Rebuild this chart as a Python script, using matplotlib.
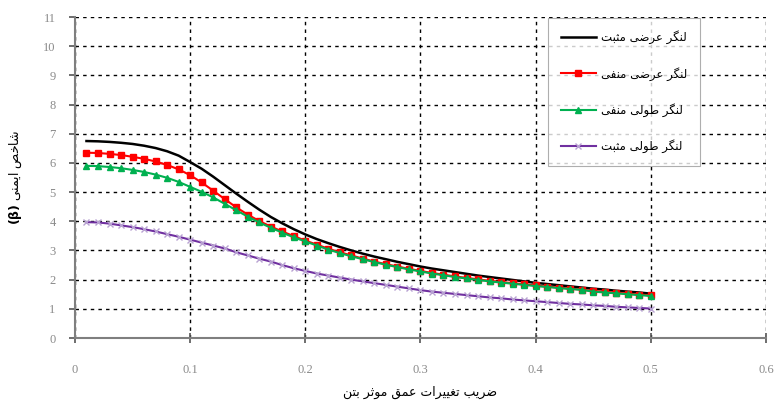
import matplotlib
matplotlib.use("Agg")
import matplotlib.pyplot as plt
import numpy as np

# ضریب تغییرات عمق موثر بتن
cov = [round(0.01 * i, 2) for i in range(1, 51)]

beta_trans_pos = [6.75, 6.74, 6.72, 6.69, 6.65, 6.59, 6.51, 6.40, 6.25, 6.03,
                  5.80, 5.53, 5.24, 4.95, 4.67, 4.40, 4.15, 3.93, 3.73, 3.55,
                  3.39, 3.25, 3.12, 3.00, 2.89, 2.79, 2.70, 2.61, 2.53, 2.45,
                  2.38, 2.32, 2.26, 2.20, 2.14, 2.09, 2.04, 1.99, 1.94, 1.89,
                  1.85, 1.81, 1.77, 1.73, 1.69, 1.66, 1.62, 1.59, 1.56, 1.52]

beta_trans_neg = [6.35, 6.34, 6.31, 6.27, 6.21, 6.14, 6.05, 5.93, 5.78, 5.58,
                  5.33, 5.05, 4.76, 4.48, 4.23, 4.01, 3.82, 3.65, 3.49, 3.34,
                  3.20, 3.06, 2.94, 2.83, 2.72, 2.62, 2.53, 2.45, 2.37, 2.30,
                  2.23, 2.17, 2.11, 2.06, 2.01, 1.96, 1.92, 1.88, 1.84, 1.80,
                  1.76, 1.73, 1.69, 1.66, 1.61, 1.58, 1.55, 1.52, 1.49, 1.46]

beta_long_neg = [5.90, 5.89, 5.86, 5.82, 5.76, 5.69, 5.60, 5.49, 5.35, 5.18,
                 5.01, 4.82, 4.60, 4.38, 4.16, 3.96, 3.78, 3.61, 3.45, 3.31,
                 3.17, 3.03, 2.91, 2.80, 2.70, 2.60, 2.51, 2.43, 2.35, 2.28,
                 2.21, 2.15, 2.09, 2.04, 1.99, 1.94, 1.90, 1.86, 1.82, 1.78,
                 1.75, 1.71, 1.68, 1.65, 1.59, 1.56, 1.53, 1.50, 1.47, 1.44]

beta_long_pos = [3.97, 3.96, 3.92, 3.86, 3.80, 3.73, 3.65, 3.56, 3.47, 3.37,
                 3.27, 3.17, 3.07, 2.94, 2.83, 2.72, 2.62, 2.50, 2.39, 2.30,
                 2.21, 2.14, 2.07, 2.00, 1.94, 1.88, 1.82, 1.76, 1.70, 1.64,
                 1.59, 1.55, 1.51, 1.47, 1.43, 1.39, 1.36, 1.32, 1.29, 1.26,
                 1.23, 1.20, 1.17, 1.15, 1.12, 1.10, 1.07, 1.05, 1.03, 1.01]

labels = ["لنگر عرضی مثبت", "لنگر عرضی منفی", "لنگر طولی منفی", "لنگر طولی مثبت"]
x_title = "ضریب تغییرات عمق موثر بتن"
y_title = "شاخص ایمنی"

# presentation forms: isolated, final, initial, medial
FORMS = {
    "ا": ("\uFE8D", "\uFE8E"),
    "ر": ("\uFEAD", "\uFEAE"),
    "و": ("\uFEED", "\uFEEE"),
    "ب": ("\uFE8F", "\uFE90", "\uFE91", "\uFE92"),
    "ت": ("\uFE95", "\uFE96", "\uFE97", "\uFE98"),
    "ث": ("\uFE99", "\uFE9A", "\uFE9B", "\uFE9C"),
    "خ": ("\uFEA5", "\uFEA6", "\uFEA7", "\uFEA8"),
    "ش": ("\uFEB5", "\uFEB6", "\uFEB7", "\uFEB8"),
    "ص": ("\uFEB9", "\uFEBA", "\uFEBB", "\uFEBC"),
    "ض": ("\uFEBD", "\uFEBE", "\uFEBF", "\uFEC0"),
    "ط": ("\uFEC1", "\uFEC2", "\uFEC3", "\uFEC4"),
    "ع": ("\uFEC9", "\uFECA", "\uFECB", "\uFECC"),
    "غ": ("\uFECD", "\uFECE", "\uFECF", "\uFED0"),
    "ف": ("\uFED1", "\uFED2", "\uFED3", "\uFED4"),
    "ق": ("\uFED5", "\uFED6", "\uFED7", "\uFED8"),
    "ل": ("\uFEDD", "\uFEDE", "\uFEDF", "\uFEE0"),
    "م": ("\uFEE1", "\uFEE2", "\uFEE3", "\uFEE4"),
    "ن": ("\uFEE5", "\uFEE6", "\uFEE7", "\uFEE8"),
    "گ": ("\uFB92", "\uFB93", "\uFB94", "\uFB95"),
    "ی": ("\uFBFC", "\uFBFD", "\uFBFE", "\uFBFF"),
}


def shape(text):
    out = []
    for i, ch in enumerate(text):
        if ch not in FORMS:
            out.append(ch)
            continue
        prev = text[i - 1] if i > 0 else ""
        nxt = text[i + 1] if i + 1 < len(text) else ""
        joins_prev = prev in FORMS and len(FORMS[prev]) == 4
        joins_next = len(FORMS[ch]) == 4 and nxt in FORMS
        f = FORMS[ch]
        if joins_prev and joins_next:
            out.append(f[3])
        elif joins_prev:
            out.append(f[1])
        elif joins_next:
            out.append(f[2])
        else:
            out.append(f[0])
    return "".join(out)[::-1]


plt.rcParams["font.family"] = ["DejaVu Sans"]
plt.rcParams["mathtext.fontset"] = "dejavusans"

fig = plt.figure(figsize=(7.76, 4.05), dpi=100)
ax = fig.add_axes([0.0966, 0.1654, 0.8904, 0.7926])

ax.plot(cov, beta_trans_pos, color="black", lw=1.8, label=shape(labels[0]))
ax.plot(cov, beta_trans_neg, color="#ff0000", lw=1.5, marker="s", ms=4,
        label=shape(labels[1]))
ax.plot(cov, beta_long_neg, color="#00b050", lw=1.5, marker="^", ms=5,
        label=shape(labels[2]))
ax.plot(cov, beta_long_pos, color="#7030a0", lw=1.5, marker="x", ms=4.5,
        mec="#b8a2d2", mew=1.0, label=shape(labels[3]))

ax.set_xlim(0, 0.6)
ax.set_ylim(0, 11)
ax.set_xticks(np.arange(0, 0.61, 0.1))
ax.set_yticks(range(0, 12))
ax.set_xticklabels(["0", "0.1", "0.2", "0.3", "0.4", "0.5", "0.6"])

ax.grid(True, color="black", linestyle=(0, (2.5, 3)), linewidth=1.0)
ax.set_axisbelow(True)
for s in ["top", "right"]:
    ax.spines[s].set_visible(False)
for s in ["left", "bottom"]:
    ax.spines[s].set_color("#7f7f7f")
    ax.spines[s].set_linewidth(1.5)

ax.tick_params(axis="y", direction="out", length=4, width=1.2, color="#555555",
               labelsize=9, labelcolor="#8a8a8a", pad=10)
ax.tick_params(axis="x", direction="inout", length=7, width=1.2, color="#555555",
               labelsize=9, labelcolor="#8a8a8a", pad=15)
for t in ax.get_xticklabels() + ax.get_yticklabels():
    t.set_family("Liberation Serif")

ax.set_xlabel(shape(x_title), fontsize=9, va="center")
ax.xaxis.set_label_coords(0.5, -0.171)
ax.set_ylabel(r"$\mathbf{(\beta)}$ " + shape(y_title), fontsize=9, va="center")
ax.yaxis.set_label_coords(-0.085, 0.5)

leg = ax.legend(loc="upper left", bbox_to_anchor=(0.684, 0.998), fontsize=8.5,
                frameon=True, fancybox=False, handlelength=3.0,
                labelspacing=1.9, borderpad=1.1, handletextpad=0.4,
                borderaxespad=0)
leg.get_frame().set_edgecolor("#9a9a9a")
leg.get_frame().set_linewidth(0.8)

fig.savefig("out.png", dpi=100)
